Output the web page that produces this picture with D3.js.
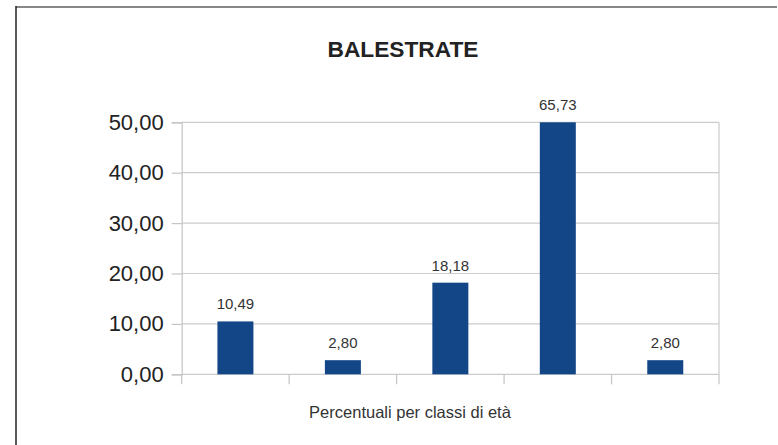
<!DOCTYPE html>
<html>
<head>
<meta charset="utf-8">
<script src="https://cdn.jsdelivr.net/npm/d3@7"></script>
<style>
  body { margin: 0; background: #fff; }
  svg { display: block; font-family: "Liberation Sans", Arial, sans-serif; }
</style>
</head>
<body>
<div id="chart"></div>
<script>
// data (classi di età, no labels shown on the axis)
var categories = ["classe 1", "classe 2", "classe 3", "classe 4", "classe 5"];
var values = [10.49, 2.80, 18.18, 65.73, 2.80];
var yTicks = [0, 10, 20, 30, 40, 50];
var yMax = 50;

var W = 778, H = 445;
var margin = {top: 122.3, right: 59, bottom: 70.7, left: 181.7},
    width = W - margin.left - margin.right,
    height = H - margin.top - margin.bottom;

var it = d3.formatLocale({decimal: ",", thousands: ".", grouping: [3], currency: ["", "€"]});
var fmt = it.format(".2f");

var svg = d3.select("#chart")
  .append("svg")
    .attr("width", W)
    .attr("height", H);

// frame of the chart (only top and left edges are visible)
svg.append("line")
  .attr("x1", 16).attr("x2", 777).attr("y1", 7).attr("y2", 7)
  .attr("stroke", "#888").attr("stroke-width", 2);
svg.append("line")
  .attr("x1", 16).attr("x2", 16).attr("y1", 6).attr("y2", H)
  .attr("stroke", "#222").attr("stroke-width", 1.5);

var g = svg.append("g")
  .attr("transform", "translate(" + margin.left + "," + margin.top + ")");

var x = d3.scaleBand()
  .domain(categories)
  .range([0, width])
  .paddingInner(0.665)
  .paddingOuter(0.3325);

var y = d3.scaleLinear()
  .domain([0, yMax])
  .range([height, 0]);

// gridlines
g.append("g")
  .selectAll("line")
  .data(yTicks)
  .enter()
  .append("line")
    .attr("x1", 0).attr("x2", width)
    .attr("y1", function(d) { return y(d); })
    .attr("y2", function(d) { return y(d); })
    .attr("stroke", "#cccccc")
    .attr("stroke-width", 1.2);

// right edge of plot area
g.append("line")
  .attr("x1", width).attr("x2", width).attr("y1", 0).attr("y2", height)
  .attr("stroke", "#cccccc").attr("stroke-width", 1.2);

// Y axis
var yAxis = g.append("g")
  .call(d3.axisLeft(y).tickValues(yTicks).tickSize(10).tickPadding(8).tickFormat(fmt));
yAxis.select(".domain").attr("stroke", "#c4c4c4").attr("stroke-width", 1.2);
yAxis.selectAll(".tick line").attr("stroke", "#c4c4c4").attr("stroke-width", 1.2);
yAxis.selectAll(".tick text")
  .attr("fill", "#222")
  .style("font-size", "22px");

// category ticks on band boundaries
var step = x.step();
var bounds = d3.range(categories.length + 1);
g.append("g")
  .selectAll("line")
  .data(bounds)
  .enter()
  .append("line")
    .attr("x1", function(d) { return d * step; })
    .attr("x2", function(d) { return d * step; })
    .attr("y1", height).attr("y2", height + 10)
    .attr("stroke", "#c4c4c4").attr("stroke-width", 1.2);

// bars (clipped at the axis maximum)
g.append("g")
  .selectAll("rect")
  .data(values)
  .enter()
  .append("rect")
    .attr("x", function(d, i) { return x(categories[i]); })
    .attr("width", x.bandwidth())
    .attr("y", function(d) { return y(Math.min(d, yMax)); })
    .attr("height", function(d) { return height - y(Math.min(d, yMax)); })
    .attr("fill", "#134686");

// value labels
g.append("g")
  .selectAll("text")
  .data(values)
  .enter()
  .append("text")
    .attr("x", function(d, i) { return x(categories[i]) + x.bandwidth() / 2; })
    .attr("y", function(d) { return y(Math.min(d, yMax)) - 12; })
    .attr("text-anchor", "middle")
    .attr("fill", "#333")
    .style("font-size", "15px")
    .text(function(d) { return fmt(d); });

// title
svg.append("text")
  .attr("x", 403)
  .attr("y", 56.5)
  .attr("text-anchor", "middle")
  .attr("fill", "#222")
  .style("font-size", "22.7px")
  .style("font-weight", "bold")
  .text("BALESTRATE");

// x axis title
svg.append("text")
  .attr("x", 410)
  .attr("y", 418)
  .attr("text-anchor", "middle")
  .attr("fill", "#333")
  .style("font-size", "16.5px")
  .text("Percentuali per classi di età");
</script>
</body>
</html>
